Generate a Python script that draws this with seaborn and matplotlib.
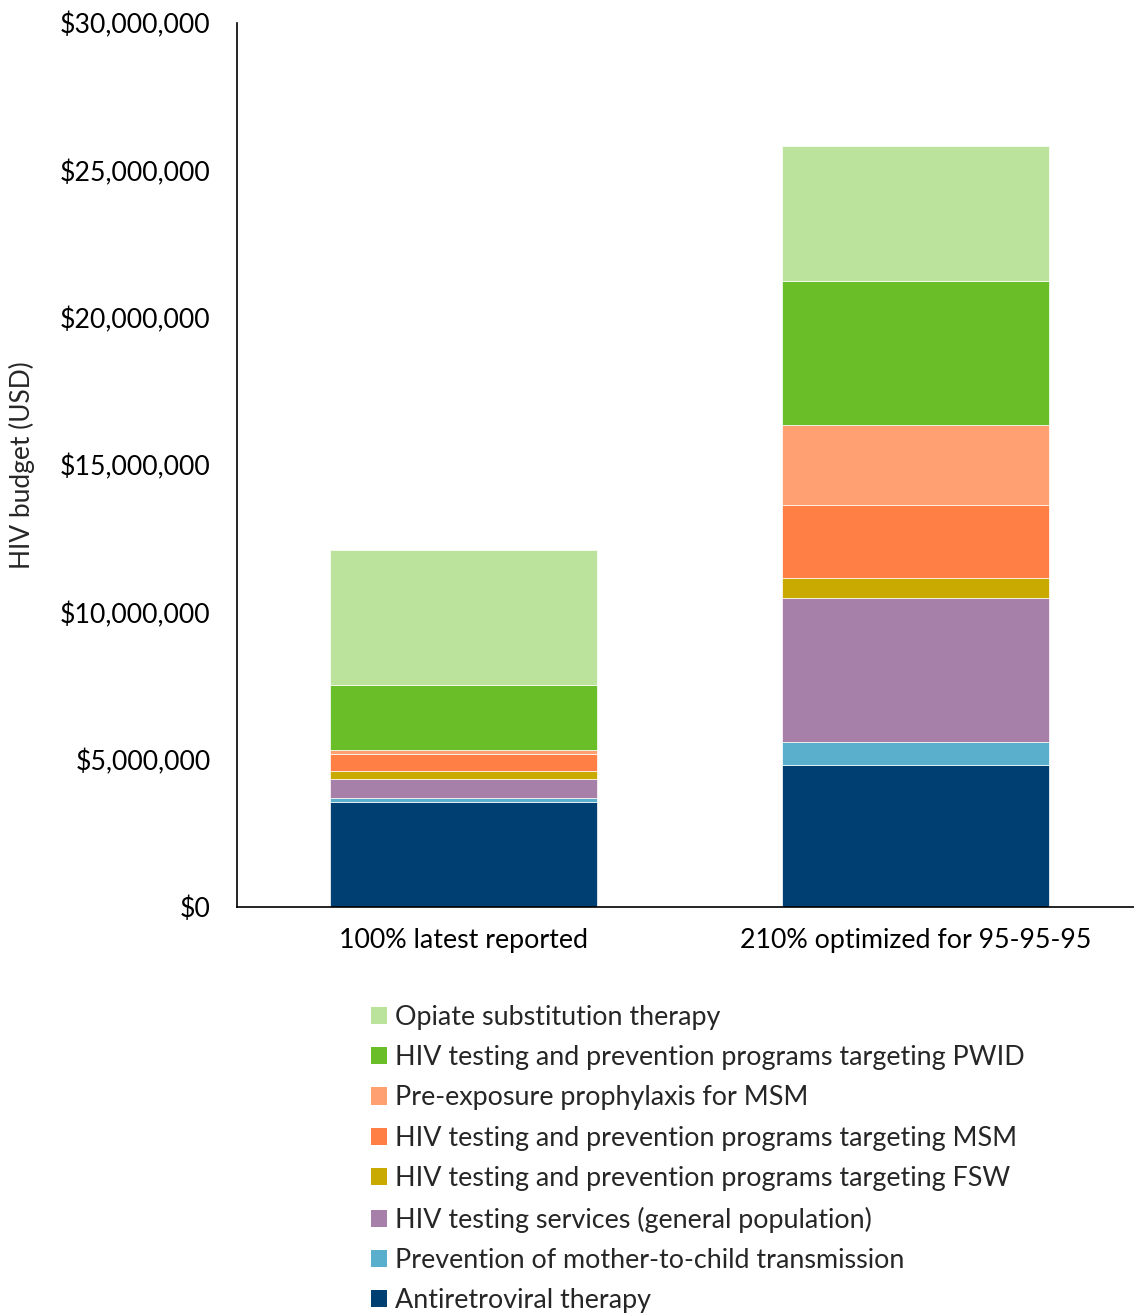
import matplotlib
matplotlib.use("Agg")
import matplotlib.pyplot as plt
import seaborn as sns
import pandas as pd
import numpy as np
from matplotlib.patches import Patch
from matplotlib.ticker import FuncFormatter

scenarios = ["100% latest reported", "210% optimized for 95-95-95"]
programs = [
    "Antiretroviral therapy",
    "Prevention of mother-to-child transmission",
    "HIV testing services (general population)",
    "HIV testing and prevention programs targeting FSW",
    "HIV testing and prevention programs targeting MSM",
    "Pre-exposure prophylaxis for MSM",
    "HIV testing and prevention programs targeting PWID",
    "Opiate substitution therapy",
]
art = [3573000, 4829000]
pmtct = [136000, 760000]
hts = [625000, 4908000]
fsw = [271000, 658000]
msm = [597000, 2487000]
prep = [126000, 2705000]
pwid = [2196000, 4887000]
ost = [4591000, 4592000]
colors = ["#003f72", "#5aafcc", "#a680a9", "#c8aa00", "#ff7f44", "#ffa073", "#6abf28", "#bce39c"]
yticks = [0, 5000000, 10000000, 15000000, 20000000, 25000000, 30000000]

series = [art, pmtct, hts, fsw, msm, prep, pwid, ost]

sns.set_theme(style="white")
plt.rcParams['font.family'] = ['Lato', 'DejaVu Sans']

fig = plt.figure(figsize=(11.34, 13.15), dpi=100)
ax = fig.add_axes([237/1134, 1 - 907/1315, 1 - 237/1134, (907 - 23)/1315])

bottom = np.zeros(len(scenarios))
for name, vals, col in zip(programs, series, colors):
    df = pd.DataFrame({"scenario": scenarios, "value": vals})
    sns.barplot(data=df, x="scenario", y="value", order=scenarios, color=col,
                bottom=bottom.copy(), width=0.59, ax=ax, edgecolor="white",
                linewidth=0.5, saturation=1, errorbar=None)
    bottom += np.array(vals)

ax.set_xlim(-0.5, 1.482)
ax.set_ylim(0, 30000000)
ax.set_yticks(yticks)
ax.yaxis.set_major_formatter(FuncFormatter(lambda v, p: "${:,.0f}".format(v)))
ax.tick_params(axis="y", labelsize=19.2, length=0, pad=19)
ax.tick_params(axis="x", labelsize=19.3, length=0, pad=15)
for lab in ax.get_yticklabels() + ax.get_xticklabels():
    lab.set_color("#000000")
ax.set_xlabel("")
ax.set_ylabel("HIV budget (USD)", fontsize=19, labelpad=18)
for s in ["top", "right"]:
    ax.spines[s].set_visible(False)
for s in ["left", "bottom"]:
    ax.spines[s].set_color("black")
    ax.spines[s].set_linewidth(1.2)

handles = [Patch(facecolor=c, edgecolor="none") for c in colors][::-1]
labels = programs[::-1]
fig.legend(handles, labels, loc="upper left", bbox_to_anchor=(360/1134, 1 - 994/1315),
           frameon=False, fontsize=19.4, handlelength=0.6, handleheight=0.6,
           handletextpad=0.3, labelspacing=0.57, borderaxespad=0)

fig.savefig("out.png", dpi=100)
